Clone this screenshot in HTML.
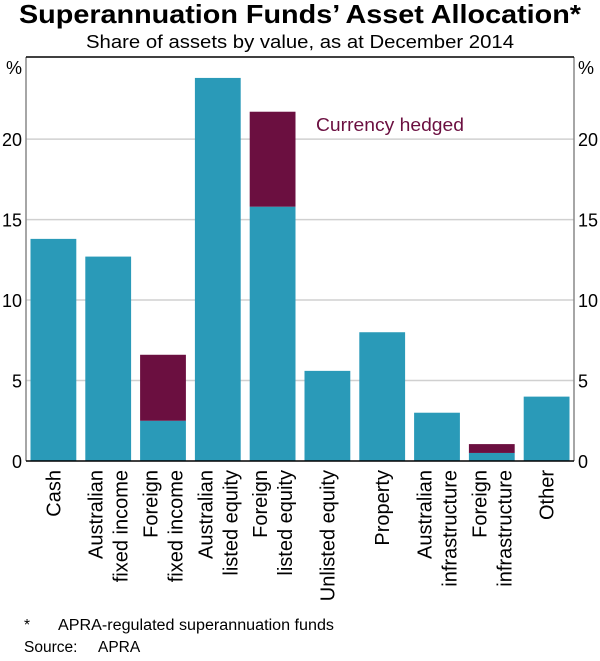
<!DOCTYPE html>
<html><head><meta charset="utf-8"><style>
body{margin:0;background:#fff;}
svg{font-family:"Liberation Sans",sans-serif;}
</style></head><body>
<svg width="600" height="656" viewBox="0 0 600 656">
<text x="300" y="23" text-anchor="middle" font-size="26" font-weight="bold" textLength="562" lengthAdjust="spacingAndGlyphs">Superannuation Funds’ Asset Allocation*</text>
<text x="300" y="48" text-anchor="middle" font-size="18" textLength="428" lengthAdjust="spacingAndGlyphs">Share of assets by value, as at December 2014</text>
<g id="plot"></g>
<text x="316" y="131" font-size="18" fill="#6b0f40" textLength="148" lengthAdjust="spacingAndGlyphs">Currency hedged</text>
<text x="24" y="630" font-size="15.5">*</text>
<text x="58" y="630" font-size="15.5" textLength="276" lengthAdjust="spacingAndGlyphs">APRA-regulated superannuation funds</text>
<text x="24" y="652" font-size="15.5">Source:</text>
<text x="98" y="652" font-size="15.5">APRA</text>
</svg>
<script>
const categories=[["Cash"],["Australian","fixed income"],["Foreign","fixed income"],["Australian","listed equity"],["Foreign","listed equity"],["Unlisted equity"],["Property"],["Australian","infrastructure"],["Foreign","infrastructure"],["Other"]];
const unhedged=[13.8,12.7,2.5,23.8,15.8,5.6,8.0,3.0,0.5,4.0];
const hedged=[0,0,4.1,0,5.9,0,0,0,0.55,0];
const yTicks=[0,5,10,15,20];
const L=26,R=574,T=57,B=461,yMax=25.1;
const y=v=>B-(v/yMax)*(B-T);
const bw=(R-L)/categories.length;
const x=i=>L+i*bw;
const NS="http://www.w3.org/2000/svg";
const g=document.getElementById('plot');
function mk(t,a,txt){const e=document.createElementNS(NS,t);for(const k in a)e.setAttribute(k,a[k]);if(txt!==undefined)e.textContent=txt;g.appendChild(e);return e;}
yTicks.forEach(v=>{
  if(v>0){const l=mk('line',{x1:L,x2:R,y1:y(v),y2:y(v),stroke:'#d0d0d0','stroke-width':1.5});
  
  }
  const a=mk('text',{x:L-4,y:y(v)+7,'text-anchor':'end','font-size':18},String(v));
  
  
  const b=mk('text',{x:R+4,y:y(v)+7,'text-anchor':'start','font-size':18},String(v));
  
  
});
let p1=mk('text',{x:L-4,y:T+17,'text-anchor':'end','font-size':18},'%');


let p2=mk('text',{x:R+4,y:T+17,'text-anchor':'start','font-size':18},'%');


categories.forEach((c,i)=>{
  const bx=x(i)+4.5,w=bw-9;
  const r=mk('rect',{x:bx,y:y(unhedged[i]),width:w,height:B-y(unhedged[i]),fill:'#2a9ab8'});
  
  
  if(hedged[i]>0){
    const h=mk('rect',{x:bx,y:y(unhedged[i]+hedged[i]),width:w,height:y(unhedged[i])-y(unhedged[i]+hedged[i]),fill:'#6b0f40'});
    
    
  }
  const cx=x(i)+bw/2;
  const n=c.length;
  c.forEach((line,j)=>{
    const off=(j-(n-1)/2)*25+7;
    const t=mk('text',{x:0,y:0,'text-anchor':'end','font-size':20,transform:`translate(${cx+off},${B+9}) rotate(-90)`},line);
    
    
  });
});
let la=mk('line',{x1:L,x2:L,y1:T,y2:B,stroke:'#888','stroke-width':1.5});


let ra=mk('line',{x1:R,x2:R,y1:T,y2:B,stroke:'#888','stroke-width':1.5});


let ta=mk('line',{x1:L,x2:R,y1:T,y2:T,stroke:'#000','stroke-width':1.5});


let ba=mk('line',{x1:L,x2:R,y1:B,y2:B,stroke:'#000','stroke-width':1.5});


</script>
</body></html>
